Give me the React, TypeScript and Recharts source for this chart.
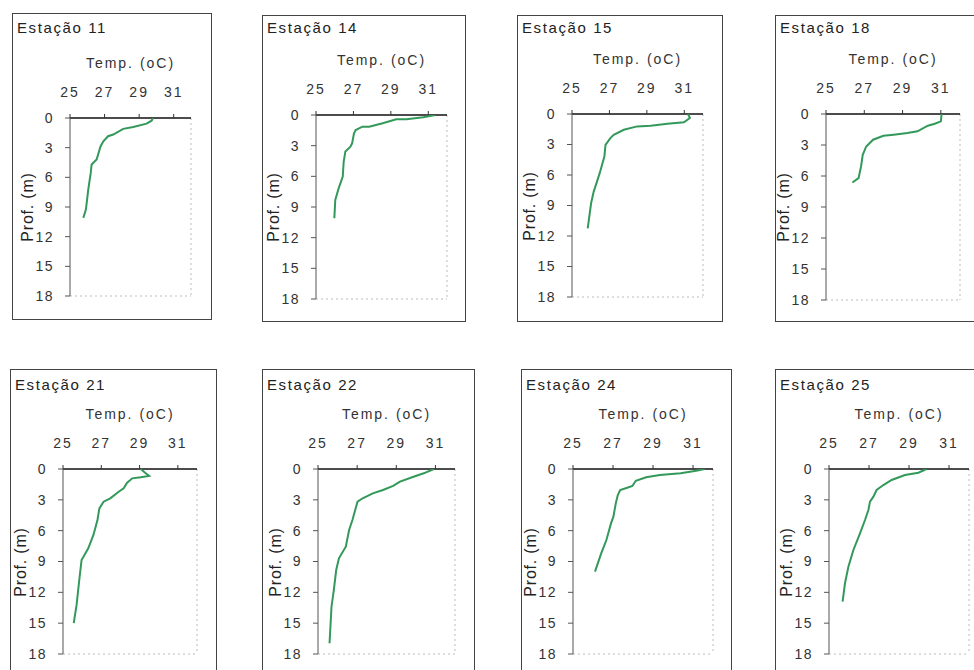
import React from "react";
import { ScatterChart, Scatter, XAxis, YAxis, ReferenceLine } from "recharts";

// ---- data ----
const stations = ["Estação 11", "Estação 14", "Estação 15", "Estação 18", "Estação 21", "Estação 22", "Estação 24", "Estação 25"];
const tempTicks = [25, 27, 29, 31];
const depthTicks = [0, 3, 6, 9, 12, 15, 18];

const st11Temp = [29.8, 29.72, 29.43, 28.66, 28.08, 27.5, 27.2, 26.93, 26.77, 26.54, 26.25, 26.2, 26.06, 25.92, 25.77];
const st11Depth = [0, 0.27, 0.57, 0.9, 1.1, 1.67, 1.84, 2.35, 2.85, 4.2, 4.7, 5.55, 7.2, 9.26, 10.1];

const st14Temp = [31.37, 30.73, 29.83, 29.29, 28.56, 27.84, 27.48, 27.12, 27.03, 26.93, 26.84, 26.57, 26.48, 26.43, 26.21, 26.03, 25.98];
const st14Depth = [0, 0.23, 0.42, 0.42, 0.81, 1.14, 1.14, 1.47, 1.79, 2.77, 3.09, 3.58, 4.56, 6.03, 7.17, 8.31, 10.1];

const st15Temp = [31.2, 31.3, 30.98, 30.1, 29.2, 28.48, 27.77, 27.23, 27.05, 26.79, 26.73, 26.48, 26.16, 26.02, 25.84];
const st15Depth = [0, 0.39, 0.82, 0.95, 1.15, 1.22, 1.55, 2.04, 2.37, 3.03, 4.18, 5.82, 7.63, 8.78, 11.25];

const st18Temp = [31.04, 31.0, 30.68, 30.32, 29.78, 29.25, 28.53, 28.0, 27.46, 27.1, 26.92, 26.83, 26.7, 26.38];
const st18Depth = [0, 0.71, 0.94, 1.13, 1.68, 1.84, 2.0, 2.1, 2.49, 3.14, 3.95, 5.08, 6.21, 6.63];

const st21Temp = [29.06, 29.32, 29.5, 29.06, 28.62, 28.35, 28.17, 27.91, 27.47, 27.12, 26.9, 26.8, 26.59, 26.32, 25.97, 25.85, 25.71, 25.56];
const st21Depth = [0, 0.42, 0.68, 0.81, 0.91, 1.33, 1.88, 2.21, 2.85, 3.18, 3.83, 4.96, 6.42, 7.72, 8.85, 10.8, 13.23, 15.0];

const st22Temp = [30.92, 30.4, 29.88, 29.19, 28.84, 28.32, 27.8, 27.28, 27.02, 26.9, 26.76, 26.59, 26.42, 26.07, 25.93, 25.81, 25.69, 25.59];
const st22Depth = [0, 0.42, 0.75, 1.23, 1.65, 2.04, 2.37, 2.85, 3.18, 3.99, 4.96, 5.94, 7.56, 8.69, 9.83, 11.77, 13.4, 16.96];

const st24Temp = [31.59, 31.16, 30.38, 29.34, 28.66, 28.14, 27.97, 27.71, 27.36, 27.24, 27.14, 27.02, 26.9, 26.67, 26.41, 26.1];
const st24Depth = [0, 0.16, 0.42, 0.58, 0.81, 1.14, 1.65, 1.82, 2.04, 2.53, 3.34, 4.64, 5.29, 6.91, 8.21, 9.99];

const st25Temp = [29.88, 29.47, 28.8, 28.13, 27.72, 27.38, 27.22, 27.05, 26.97, 26.8, 26.55, 26.22, 25.97, 25.8, 25.68];
const st25Depth = [0, 0.36, 0.58, 1.07, 1.56, 2.04, 2.69, 3.18, 3.99, 4.96, 6.26, 7.88, 9.5, 11.12, 12.9];

const temps = [st11Temp, st14Temp, st15Temp, st18Temp, st21Temp, st22Temp, st24Temp, st25Temp];
const depths = [st11Depth, st14Depth, st15Depth, st18Depth, st21Depth, st22Depth, st24Depth, st25Depth];

// ---- layout (page pixels) ----
type Geo = { box: [number, number, number, number]; plot: [number, number, number, number]; titleY: number };
const layout: Geo[] = [
  { box: [12, 13, 212, 320], plot: [70, 118, 191, 296], titleY: 28 },
  { box: [262, 15, 466, 322], plot: [316, 115, 447, 299], titleY: 28 },
  { box: [517, 15, 723, 322], plot: [572, 114, 703, 297], titleY: 28 },
  { box: [775, 15, 990, 322], plot: [826, 114, 960, 300], titleY: 28 },
  { box: [10, 369, 217, 690], plot: [63, 469, 197, 654], titleY: 385 },
  { box: [262, 369, 475, 690], plot: [318, 469, 455, 654], titleY: 385 },
  { box: [521, 369, 732, 690], plot: [573, 469, 713, 654], titleY: 385 },
  { box: [775, 369, 990, 690], plot: [829, 469, 969, 654], titleY: 385 },
];

const FONT = "'Liberation Sans', Arial, Helvetica, sans-serif";
const LINE = "#33995a";
const TEXT = "#333";

const NoDot = () => <g />;

function Panel({ i }: { i: number }) {
  const g = layout[i];
  const [bl, bt, br, bb] = g.box;
  const [pl, pt, pr, pb] = g.plot;
  const data = temps[i].map((t, k) => ({ t, d: depths[i][k] }));
  const yW = 60;
  const xH = 40;
  const mR = 4;
  const mB = 12;
  const w = pr - pl + yW + mR;
  const h = pb - pt + xH + mB;
  return (
    <>
      <div
        style={{
          position: "absolute",
          left: bl,
          top: bt,
          width: br - bl,
          height: bb - bt,
          border: "1px solid #444",
          boxSizing: "border-box",
        }}
      />
      <div
        style={{
          position: "absolute",
          left: bl + 5,
          top: g.titleY - 9,
          fontSize: 15,
          letterSpacing: 1.6,
          color: "#222",
          lineHeight: "18px",
          whiteSpace: "nowrap",
        }}
      >
        {stations[i]}
      </div>
      <div
        style={{
          position: "absolute",
          left: (pl + pr) / 2 - 70,
          width: 140,
          textAlign: "center",
          top: pt - 55 - 9,
          fontSize: 14,
          letterSpacing: 2,
          color: TEXT,
          lineHeight: "18px",
          whiteSpace: "nowrap",
        }}
      >
        Temp. (oC)
      </div>
      <div
        style={{
          position: "absolute",
          left: pl - 42 - 50,
          top: (pt + pb) / 2 - 10,
          width: 100,
          height: 20,
          lineHeight: "20px",
          textAlign: "center",
          transform: "rotate(-90deg)",
          fontSize: 16,
          letterSpacing: 0.8,
          color: "#222",
          whiteSpace: "nowrap",
          zIndex: 0,
        }}
      >
        Prof. (m)
      </div>
      <div style={{ position: "absolute", left: pl - yW, top: pt - xH, zIndex: 1 }}>
        <ScatterChart width={w} height={h} margin={{ top: 0, left: 0, right: mR, bottom: mB }}>
          <XAxis
            type="number"
            dataKey="t"
            orientation="top"
            domain={[25, 32]}
            ticks={tempTicks}
            interval={0}
            allowDataOverflow
            height={xH}
            tickSize={4}
            tickMargin={17}
            axisLine={{ stroke: "#111", strokeWidth: 1.5 }}
            tickLine={{ stroke: "#333" }}
            tick={{ fill: TEXT, fontSize: 14, letterSpacing: 2, fontFamily: FONT }}
          />
          <YAxis
            type="number"
            dataKey="d"
            domain={[0, 18]}
            reversed
            ticks={depthTicks}
            interval={0}
            allowDataOverflow
            width={yW}
            tickSize={5}
            tickMargin={11}
            axisLine={{ stroke: "#555" }}
            tickLine={{ stroke: "#555" }}
            tick={{ fill: TEXT, fontSize: 14, letterSpacing: 1.5, fontFamily: FONT }}
          />
          <ReferenceLine x={32} stroke="#bbb" strokeDasharray="2 3" />
          <ReferenceLine y={18} stroke="#bbb" strokeDasharray="2 3" />
          <Scatter
            data={data}
            line={{ stroke: LINE, strokeWidth: 2 }}
            lineType="joint"
            shape={NoDot}
            fill={LINE}
            isAnimationActive={false}
          />
        </ScatterChart>
      </div>
    </>
  );
}

export default function App() {
  return (
    <div
      style={{
        position: "relative",
        width: 974,
        height: 670,
        overflow: "hidden",
        background: "#fff",
        fontFamily: FONT,
      }}
    >
      <style>{"body{margin:0}"}</style>
      {stations.map((_, i) => (
        <Panel key={i} i={i} />
      ))}
    </div>
  );
}
